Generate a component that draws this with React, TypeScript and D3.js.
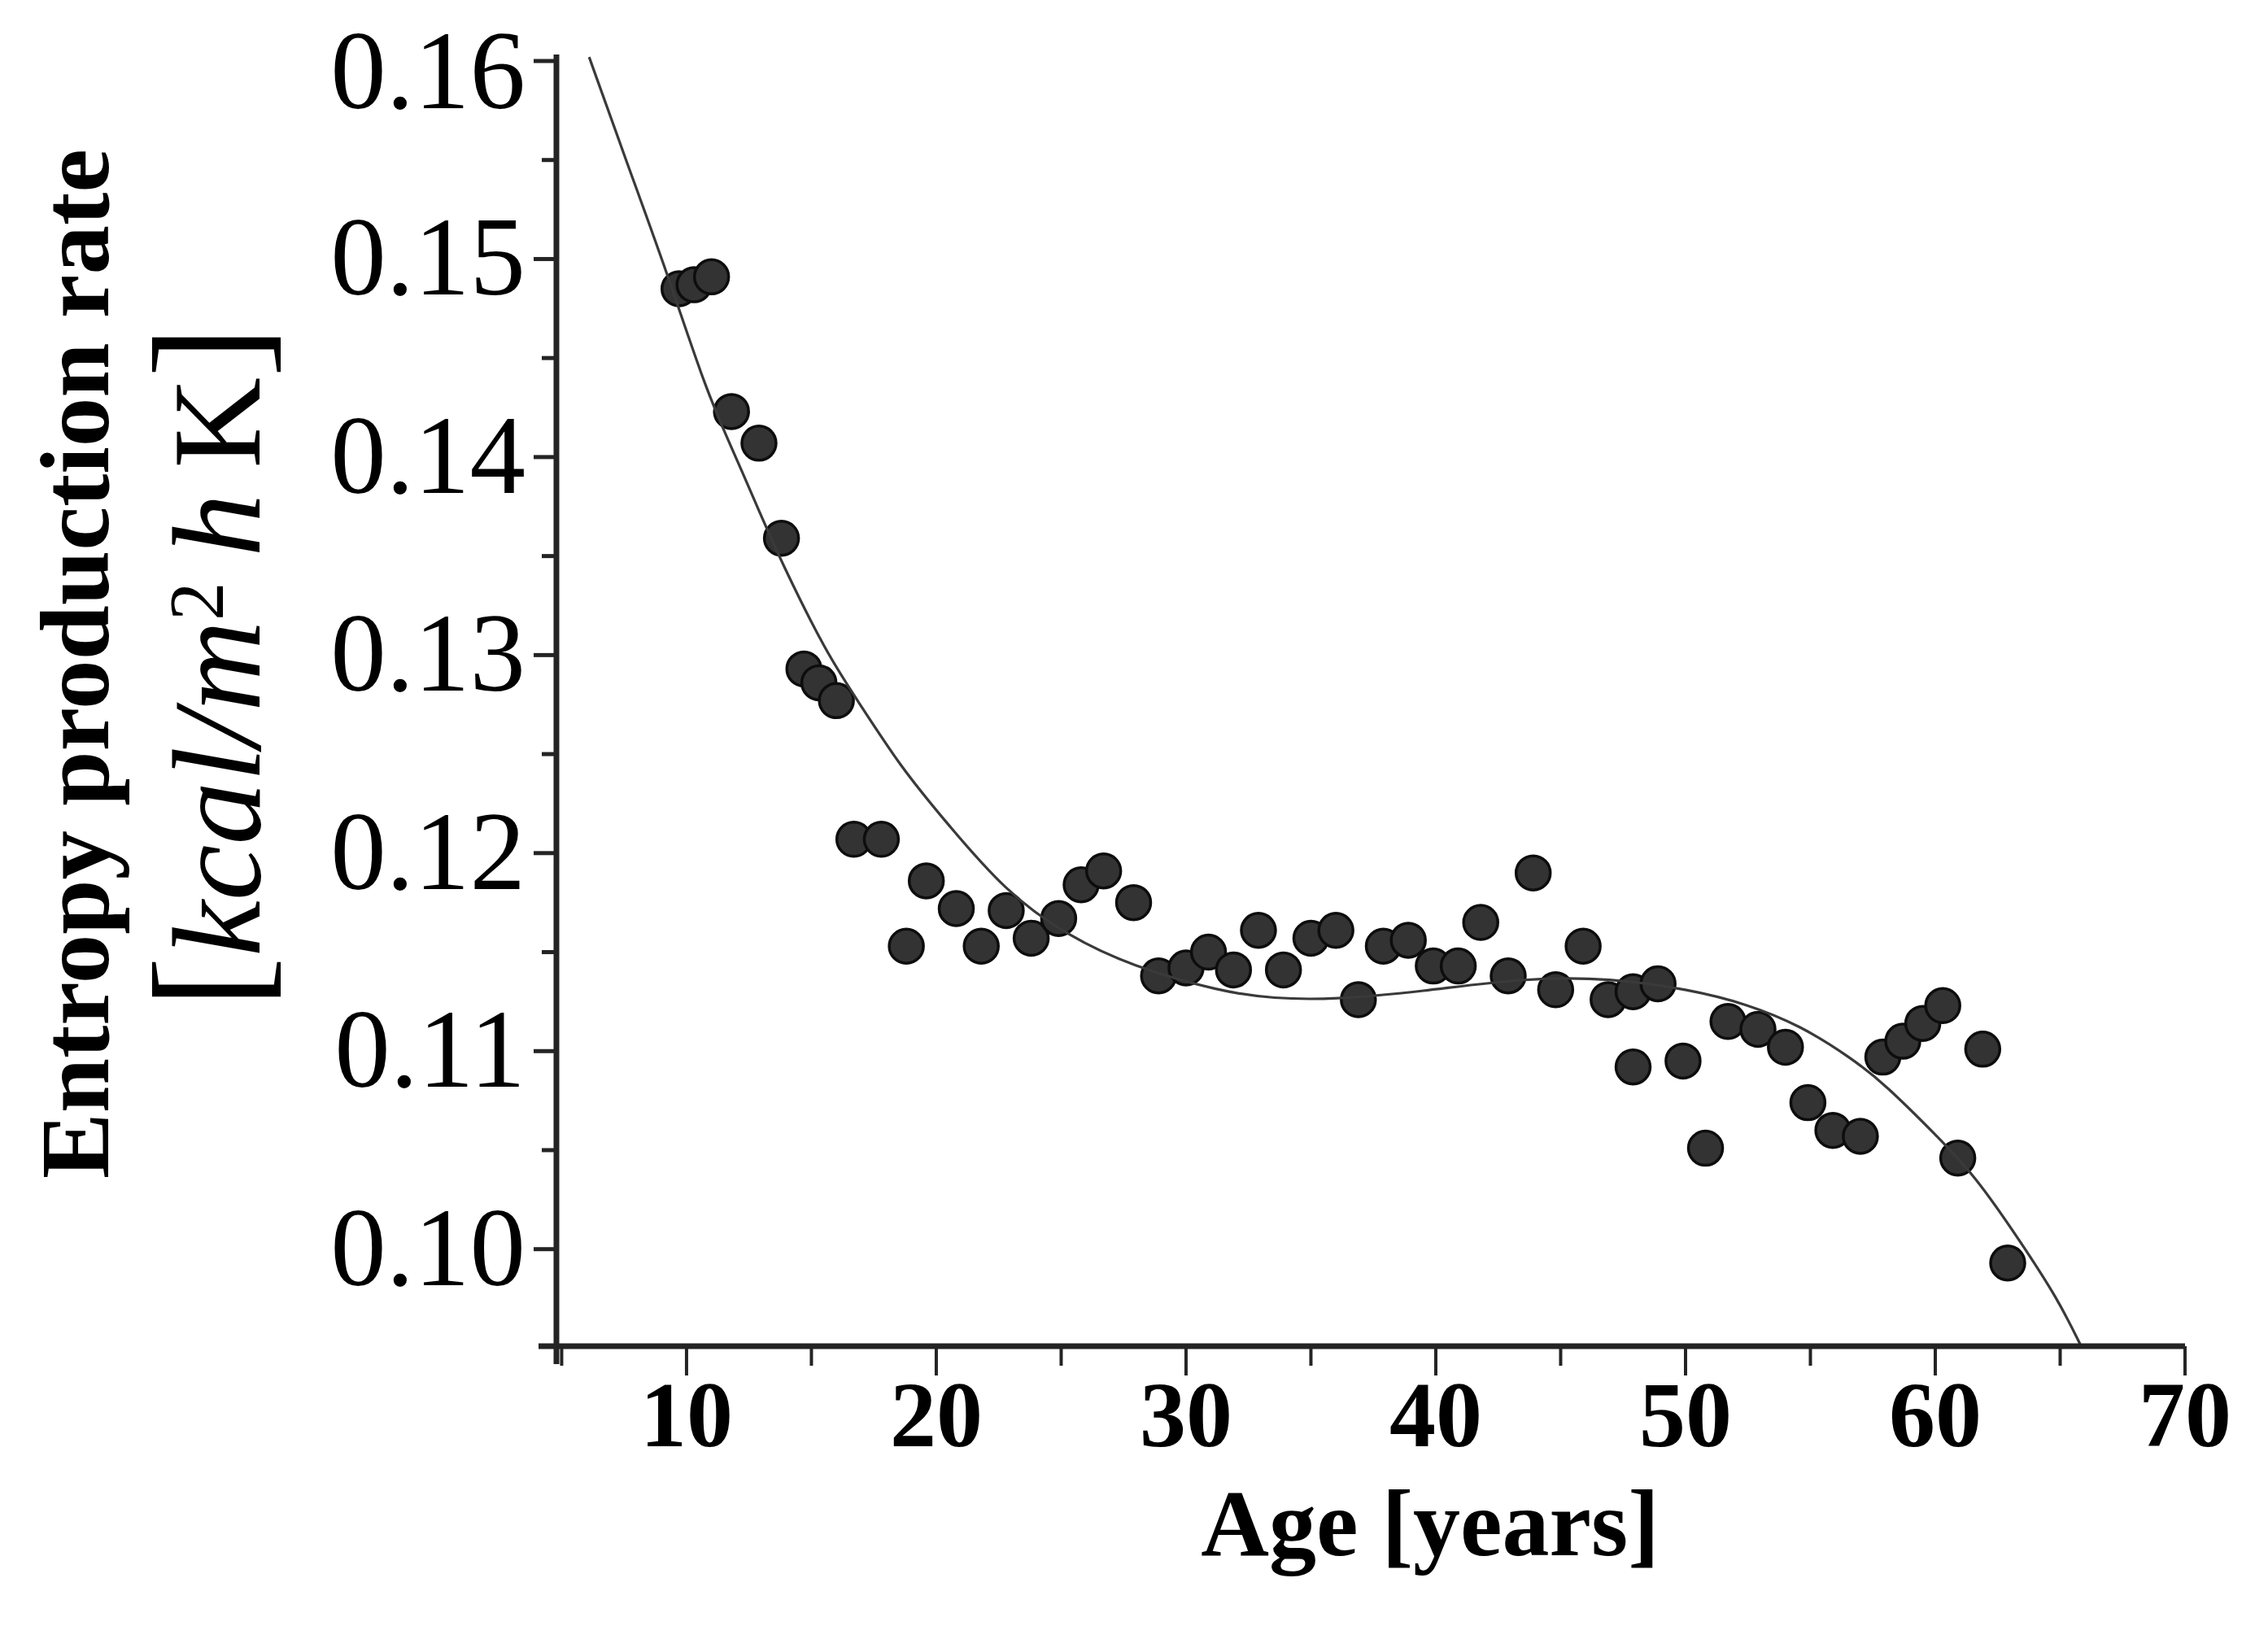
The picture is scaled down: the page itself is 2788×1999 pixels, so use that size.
import React from "react";
import * as d3 from "d3";

const pointAges = [9.7, 10.3, 11.0, 11.8, 12.9, 13.8, 14.7, 15.3, 16.0, 16.7, 17.8, 18.8, 19.6, 20.8, 21.8, 22.8, 23.8, 24.9, 25.8, 26.7, 27.9, 28.9, 30.0, 30.9, 31.9, 32.9, 33.9, 35.0, 36.0, 36.9, 37.9, 38.9, 39.9, 40.9, 41.8, 42.9, 43.9, 44.8, 45.9, 46.9, 47.9, 48.9, 47.9, 49.9, 50.8, 51.7, 52.9, 54.0, 54.9, 55.9, 57.0, 57.9, 58.7, 59.5, 60.3, 60.9, 61.9, 62.9];
const pointRates = [0.1485, 0.1487, 0.1491, 0.1423, 0.1407, 0.1359, 0.1293, 0.1286, 0.1277, 0.1207, 0.1207, 0.1153, 0.1186, 0.1172, 0.1153, 0.1171, 0.1157, 0.1167, 0.1184, 0.1191, 0.1175, 0.1138, 0.1142, 0.115, 0.1141, 0.1161, 0.1141, 0.1157, 0.1161, 0.1126, 0.1153, 0.1156, 0.1143, 0.1143, 0.1165, 0.1138, 0.119, 0.1131, 0.1153, 0.1126, 0.113, 0.1134, 0.1092, 0.1095, 0.1051, 0.1115, 0.1111, 0.1102, 0.1074, 0.106, 0.1057, 0.1097, 0.1105, 0.1114, 0.1123, 0.1046, 0.1101, 0.0993];

const curveAges = [6.1, 7.6, 9.2, 10.8, 11.8, 13.0, 13.8, 15.6, 16.8, 18.6, 20.3, 22.8, 25.3, 27.8, 31.4, 33.5, 35.9, 39.4, 43.5, 47.0, 50.2, 52.4, 54.6, 56.7, 58.0, 60.0, 61.6, 63.4, 64.9, 65.8];
const curveRates = [0.1602, 0.1549, 0.1494, 0.1433, 0.1405, 0.137, 0.1347, 0.1301, 0.1278, 0.1243, 0.1217, 0.118, 0.1158, 0.1143, 0.113, 0.11265, 0.1126, 0.113, 0.1137, 0.1137, 0.1131, 0.1124, 0.1113, 0.1096, 0.1083, 0.1058, 0.1037, 0.1004, 0.0975, 0.0952];

const xMajorTicks = [10, 20, 30, 40, 50, 60, 70];
const xMinorTicks = [5, 15, 25, 35, 45, 55, 65];
const yMajorTicks = [0.1, 0.11, 0.12, 0.13, 0.14, 0.15, 0.16];
const yMinorTicks = [0.105, 0.115, 0.125, 0.135, 0.145, 0.155];

const W = 2788;
const H = 1999;
const X0 = 684;
const X1 = 2686;
const Y0 = 1655;
const Y1 = 75;

const serif = "'Liberation Serif', 'Times New Roman', Times, serif";

export default function App() {
  const x = d3.scaleLinear().domain([4.79, 70]).range([X0, X1]);
  const y = d3.scaleLinear().domain([0.0951, 0.16]).range([Y0, Y1]);

  const curvePts: [number, number][] = curveAges.map((a, i) => [a, curveRates[i]]);
  const line = d3
    .line<[number, number]>()
    .x((d) => x(d[0]))
    .y((d) => y(d[1]))
    .curve(d3.curveBasis);

  const pts = pointAges.map((a, i) => ({ a, r: pointRates[i] }));
  const axisColor = "#242424";

  return (
    <svg
      width={W}
      height={H}
      viewBox={`0 0 ${W} ${H}`}
      style={{ position: "absolute", left: 0, top: 0, background: "#fff" }}
    >
      <rect x={0} y={0} width={W} height={H} fill="#fff" />
      <defs>
        <clipPath id="plotClip">
          <rect x={X0} y={Y1 - 20} width={X1 - X0} height={Y0 - Y1 + 20} />
        </clipPath>
      </defs>

      {/* points */}
      <g>
        {pts.map((p, i) => (
          <circle
            key={i}
            cx={x(p.a)}
            cy={y(p.r)}
            r={21}
            fill="#333"
            stroke="#0d0d0d"
            strokeWidth={3.5}
          />
        ))}
      </g>

      {/* fitted curve */}
      <path
        d={line(curvePts) || ""}
        fill="none"
        stroke="#3a3a3a"
        strokeWidth={3.2}
        clipPath="url(#plotClip)"
      />

      {/* y axis */}
      <line x1={X0} x2={X0} y1={Y1 - 8} y2={Y0 + 22} stroke={axisColor} strokeWidth={7} />
      {yMajorTicks.map((t) => (
        <g key={"ym" + t}>
          <line x1={X0 - 28} x2={X0} y1={y(t)} y2={y(t)} stroke={axisColor} strokeWidth={5} />
          <text
            x={646}
            y={y(t)}
            dy={t >= 0.16 ? 58 : 44}
            textAnchor="end"
            fontFamily={serif}
            fontSize={137}
            fill="#000"
          >
            {t.toFixed(2)}
          </text>
        </g>
      ))}
      {yMinorTicks.map((t) => (
        <line key={"yn" + t} x1={X0 - 18} x2={X0} y1={y(t)} y2={y(t)} stroke={axisColor} strokeWidth={5} />
      ))}

      {/* x axis */}
      <line x1={X0 - 22} x2={X1} y1={Y0} y2={Y0} stroke={axisColor} strokeWidth={7} />
      {xMajorTicks.map((t) => (
        <g key={"xm" + t}>
          <line x1={x(t)} x2={x(t)} y1={Y0} y2={Y0 + 36} stroke={axisColor} strokeWidth={4} />
          <text
            x={x(t)}
            y={1778}
            textAnchor="middle"
            fontFamily={serif}
            fontWeight="bold"
            fontSize={114}
            fill="#000"
          >
            {t}
          </text>
        </g>
      ))}
      {xMinorTicks.map((t) => (
        <line key={"xn" + t} x1={x(t)} x2={x(t)} y1={Y0} y2={Y0 + 24} stroke={axisColor} strokeWidth={4} />
      ))}

      {/* x title */}
      <text
        x={1758}
        y={1912}
        textAnchor="middle"
        fontFamily={serif}
        fontWeight="bold"
        fontSize={116}
        fill="#000"
      >
        Age [years]
      </text>

      {/* y title line 1 */}
      <text
        transform="translate(133, 816) rotate(-90)"
        textAnchor="middle"
        fontFamily={serif}
        fontWeight="bold"
        fontSize={121}
        fill="#000"
      >
        Entropy production rate
      </text>

      {/* y title line 2 */}
      <text
        transform="translate(319, 820) rotate(-90)"
        textAnchor="middle"
        fontFamily={serif}
        fontSize={155}
        fill="#000"
      >
        <tspan fontSize={190}>[</tspan>
        <tspan fontStyle="italic">kcal/m</tspan>
        <tspan fontSize={95} dy={-45}>2</tspan>
        <tspan fontStyle="italic" dy={45}>{"\u2009h"}</tspan>
        <tspan>{"\u2009K"}</tspan>
        <tspan fontSize={190}>]</tspan>
      </text>
    </svg>
  );
}
